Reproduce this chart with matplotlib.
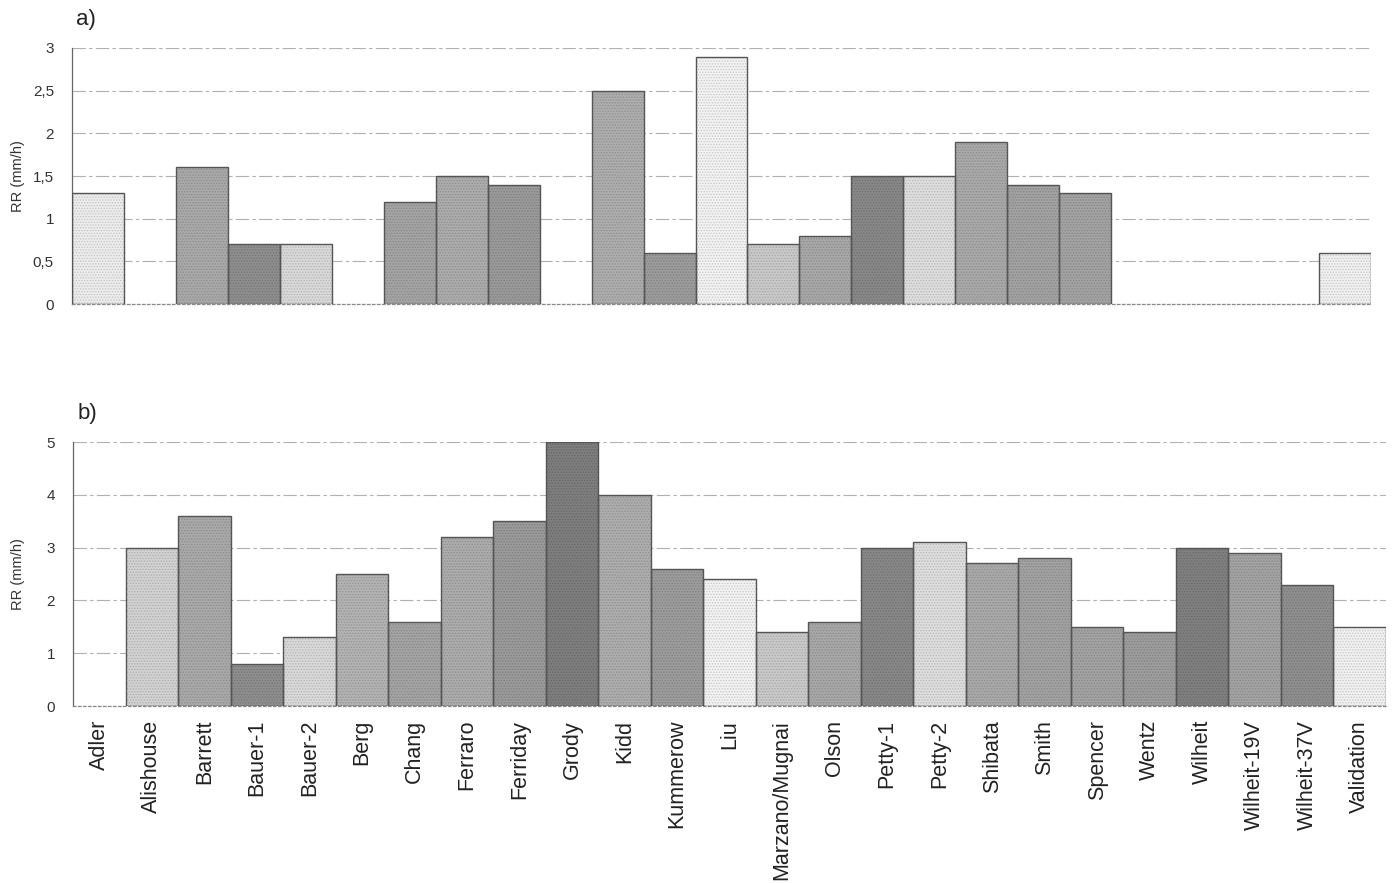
import numpy as np
import matplotlib
matplotlib.use("Agg")
import matplotlib.pyplot as plt

plt.rcParams['font.family'] = ['Liberation Sans', 'DejaVu Sans']

# Retrieval algorithms compared in both panels
algorithms = ["Adler", "Alishouse", "Barrett", "Bauer-1", "Bauer-2", "Berg",
              "Chang", "Ferraro", "Ferriday", "Grody", "Kidd", "Kummerow",
              "Liu", "Marzano/Mugnai", "Olson", "Petty-1", "Petty-2",
              "Shibata", "Smith", "Spencer", "Wentz", "Wilheit",
              "Wilheit-19V", "Wilheit-37V", "Validation"]

nan = np.nan
# Mean rain rate (mm/h), case a)
rr_a = [1.3, nan, 1.6, 0.7, 0.7, nan, 1.2, 1.5, 1.4, nan, 2.5, 0.6, 2.9,
        0.7, 0.8, 1.5, 1.5, 1.9, 1.4, 1.3, nan, nan, nan, nan, 0.6]
# Mean rain rate (mm/h), case b)
rr_b = [nan, 3.0, 3.6, 0.8, 1.3, 2.5, 1.6, 3.2, 3.5, 5.0, 4.0, 2.6, 2.4,
        1.4, 1.6, 3.0, 3.1, 2.7, 2.8, 1.5, 1.4, 3.0, 2.9, 2.3, 1.5]

yticks_a = [0, 0.5, 1, 1.5, 2, 2.5, 3]
yticks_b = [0, 1, 2, 3, 4, 5]

# Grey shade for each algorithm's bar
shades = ["#ececec", "#d2d2d2", "#a9a9a9", "#8e8e8e", "#d9d9d9", "#b3b3b3",
          "#a4a4a4", "#acacac", "#9a9a9a", "#7e7e7e", "#adadad", "#9c9c9c",
          "#f2f2f2", "#c9c9c9", "#a8a8a8", "#888888", "#dedede",
          "#a9a9a9", "#a2a2a2", "#a3a3a3", "#9d9d9d", "#808080",
          "#a3a3a3", "#8f8f8f", "#f0f0f0"]


def darker(hex_color, f=0.8):
    r, g, b = matplotlib.colors.to_rgb(hex_color)
    return (r * f, g * f, b * f)


W, H = 1393, 883
fig = plt.figure(figsize=(W / 100, H / 100), dpi=100)
fig.patch.set_facecolor("white")

plt.rcParams['hatch.linewidth'] = 0.6


def panel(rect, values, ticks, ymax, tag, show_labels):
    l, t, r, b = rect
    ax = fig.add_axes([l / W, 1 - b / H, (r - l) / W, (b - t) / H])
    x = np.arange(len(algorithms))
    # stippled fill
    ax.bar(x, values, width=1.0, color=shades,
           edgecolor=[darker(c, 0.82) for c in shades], linewidth=0,
           hatch="......", zorder=2)
    # outline
    ax.bar(x, values, width=1.0, facecolor="none", edgecolor="#555555",
           linewidth=1.0, zorder=3)
    ax.set_xlim(-0.5, len(algorithms) - 0.5)
    ax.set_ylim(0, ymax)
    ax.set_yticks(ticks)
    ax.set_yticklabels([f"{v:g}".replace(".", ",") for v in ticks])
    ax.yaxis.grid(True, color="#b0b0b0", linewidth=0.8,
                  linestyle=(0, (12, 3, 3, 3)), zorder=0)
    ax.set_axisbelow(True)
    for s in ("top", "right"):
        ax.spines[s].set_visible(False)
    ax.spines["left"].set_color("#666666")
    ax.spines["left"].set_linewidth(0.9)
    ax.spines["bottom"].set_color("#888888")
    ax.spines["bottom"].set_linewidth(0.9)
    ax.spines["bottom"].set_linestyle((0, (2, 2)))
    ax.tick_params(axis="y", length=0, pad=13, labelsize=11, labelcolor="#333333")
    ax.tick_params(axis="x", length=0, pad=10, labelsize=15.5, labelcolor="#222222")
    ax.set_xticks(x)
    if show_labels:
        ax.set_xticklabels(algorithms, rotation=90, va="top", ha="center")
    else:
        ax.set_xticklabels([])
    ax.set_ylabel("RR (mm/h)", fontsize=10.5, color="#333333")
    ax.yaxis.set_label_coords(-(l - 25) / (r - l), 0.5)
    fig.text((l + 14) / W, 1 - (t - 29) / H, tag, fontsize=16,
             color="#222222", ha="center", va="center")
    return ax


panel((72, 48, 1371, 304), rr_a, yticks_a, 3, "a)", False)
panel((73, 442, 1386, 706), rr_b, yticks_b, 5, "b)", True)

fig.savefig("out.png", dpi=100, facecolor="white")
